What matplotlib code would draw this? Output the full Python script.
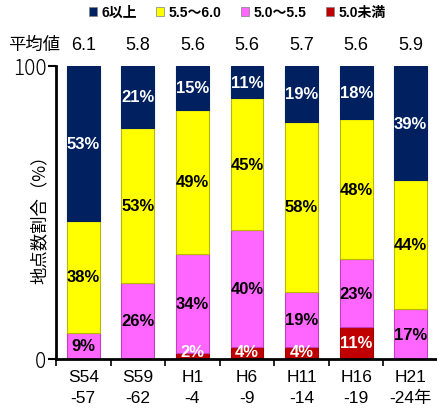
import numpy as np
import matplotlib

matplotlib.use("Agg")
import matplotlib.pyplot as plt
from matplotlib.patches import Patch

plt.rcParams["font.family"] = ["Liberation Sans", "Noto Sans CJK JP"]

# 期間ごとの地点数割合 (%)
periods = ["S54\n-57", "S59\n-62", "H1\n-4", "H6\n-9", "H11\n-14", "H16\n-19", "H21\n-24年"]
averages = ["6.1", "5.8", "5.6", "5.6", "5.7", "5.6", "5.9"]
under_50 = [0, 0, 2, 4, 4, 11, 0]
from_50_55 = [9, 26, 34, 40, 19, 23, 17]
from_55_60 = [38, 53, 49, 45, 58, 48, 44]
over_60 = [53, 21, 15, 11, 19, 18, 39]

series = [
    ("5.0未満", under_50, "#C00000", "#A00000", "white"),
    ("5.0～5.5", from_50_55, "#FF66FF", "#C040C0", "black"),
    ("5.5～6.0", from_55_60, "#FFFF00", "#B8B800", "black"),
    ("6以上", over_60, "#002060", "#002060", "white"),
]

fig = plt.figure(figsize=(4.37, 4.14), dpi=100)
ax = fig.add_axes([56 / 437, 1 - 360 / 414, 382 / 437, 293 / 414])

x = np.arange(len(periods))
bottom = np.zeros(len(periods))
for name, vals, color, edge, txt in series:
    vals = np.array(vals, dtype=float)
    ax.bar(x, vals, 0.6, bottom=bottom, color=color, edgecolor=edge, linewidth=0.8, zorder=2)
    for xi, b, v in zip(x, bottom, vals):
        if v <= 0:
            continue
        yc = b + v / 2 if v >= 6 else b + 2.5
        ax.text(xi, yc, f"{int(v)}%", ha="center", va="center", fontsize=12,
                fontweight="bold", color=txt, zorder=3)
    bottom += vals

ax.set_xlim(-0.5, len(periods) - 0.5)
ax.set_ylim(0, 100)
ax.set_yticks([0, 100])
ax.set_yticklabels(["0", "100"], fontsize=15, family=["Noto Sans CJK JP"], fontweight="light")
ax.tick_params(axis="y", length=6, width=1.5, direction="out", pad=1)

# 区切りの目盛りは期間の境界に置く
ax.set_xticks(np.arange(len(periods) + 1) - 0.5)
ax.set_xticklabels([])
ax.tick_params(axis="x", length=5, width=1.2, direction="out")
for xi, lab in zip(x, periods):
    ax.text(xi, -3.5, lab, ha="center", va="top", fontsize=12.5, linespacing=1.45,
            clip_on=False)

for side in ["top", "right"]:
    ax.spines[side].set_visible(False)
ax.spines["left"].set_linewidth(2)
ax.spines["bottom"].set_linewidth(2)

fig.text(40 / 437, 1 - 215 / 414, "地点数割合（%）", fontsize=12.5, rotation=90,
         ha="center", va="center", family=["Noto Sans CJK JP"])

# 平均値の行
fig.text(8 / 437, 1 - 45 / 414, "平均値", fontsize=12.5, va="center", family=["Noto Sans CJK JP"])
for xi, avg in zip(x, averages):
    ax.text(xi, 107.5, avg, ha="center", va="center", fontsize=13, clip_on=False)

handles = [Patch(facecolor=c, edgecolor="#808080", linewidth=0.5) for _, _, c, _, _ in series[::-1]]
labels = [s[0] for s in series[::-1]]
fig.legend(handles, labels, loc="center", bbox_to_anchor=(237 / 437, 1 - 13 / 414), ncol=4,
           frameon=False, handlelength=0.6, handleheight=0.6, handletextpad=0.3,
           columnspacing=1.4, prop={"weight": "bold", "size": 10})

fig.savefig("out.png", dpi=100)
